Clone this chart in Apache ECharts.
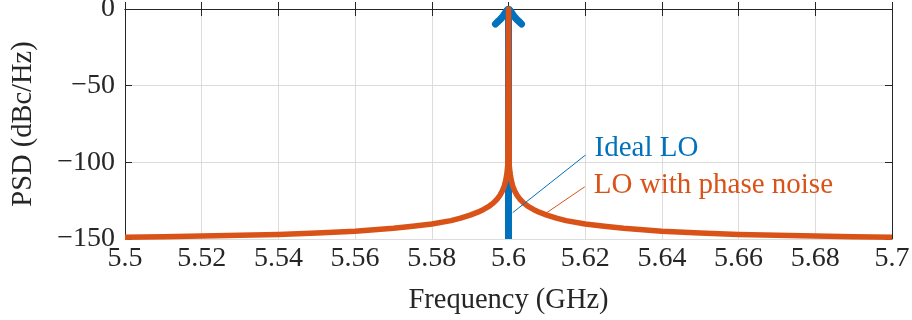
<!DOCTYPE html>
<html>
<head>
<meta charset="utf-8">
<script src="https://cdn.jsdelivr.net/npm/echarts@6/dist/echarts.min.js"></script>
<style>html,body{margin:0;padding:0;background:#fff}#c{width:912px;height:320px}</style>
</head>
<body>
<div id="c"></div>
<script>
// ---- data ----
const xTicks = [5.5, 5.52, 5.54, 5.56, 5.58, 5.6, 5.62, 5.64, 5.66, 5.68, 5.7];
const yTicks = [-150, -100, -50, 0];
const idealFreq = 5.6;
const idealLevel = 0;
const idealFloor = -150;
const noiseFreq = [5.5, 5.51, 5.52, 5.53, 5.54, 5.55, 5.56, 5.57, 5.575, 5.58, 5.585, 5.5875, 5.59, 5.592, 5.5935, 5.595, 5.596, 5.597, 5.5978, 5.5984, 5.5989, 5.5993, 5.5996, 5.5998, 5.6,
  5.6002, 5.6004, 5.6007, 5.6011, 5.6016, 5.6022, 5.603, 5.604, 5.605, 5.6065, 5.608, 5.61, 5.6125, 5.615, 5.62, 5.625, 5.63, 5.64, 5.65, 5.66, 5.67, 5.68, 5.69, 5.7];
const noiseLevel = [-148.8, -148.5, -148.1, -147.6, -147.0, -146.1, -144.9, -143.0, -141.7, -140.2, -138.0, -136.4, -134.4, -132.5, -130.7, -128.5, -126.6, -124.1, -121.4, -118.6, -115.4, -111.5, -107.0, -102.0, 0,
  -102.0, -107.0, -111.5, -115.4, -118.6, -121.4, -124.1, -126.6, -128.5, -130.7, -132.5, -134.4, -136.4, -138.0, -140.2, -141.7, -143.0, -144.9, -146.1, -147.0, -147.6, -148.1, -148.5, -148.8];
// arrow head arms (offsets from ideal peak)
const arrowDf = [-0.0034, -0.0015, 0, 0.0015, 0.0034];
const arrowDl = [-9.8, -5.0, 0, -5.0, -9.8];
// annotation pointers [freq, level]
const idealPointer = [[5.6011, -132.8], [5.6201, -95.2]];
const noisePointer = [[5.6100, -132.8], [5.6199, -115.9]];
const seriesNames = ['Ideal LO', 'LO with phase noise'];

const BLUE = '#0072BD', ORANGE = '#D95319', AX = '#262626', GRID = '#dcdcdc';
const FONT = 'Liberation Serif';
const fmtX = v => String(parseFloat(v.toFixed(2)));
const fmtY = v => String(Math.round(v)).replace('-', '\u2212');

const chart = echarts.init(document.getElementById('c'), null, {renderer: 'canvas'});
const axisCommon = {
  axisLine: {show: true, lineStyle: {color: AX, width: 1}},
  axisTick: {show: true, inside: true, length: 7, lineStyle: {color: AX, width: 1}},
};
chart.setOption({
  animation: false,
  backgroundColor: '#fff',
  grid: {left: 125, right: 20, top: 9, bottom: 81, containLabel: false, outerBoundsMode: 'none'},
  xAxis: [
    Object.assign({
      type: 'value', min: 5.5, max: 5.7, interval: 0.02, position: 'bottom',
      name: 'Frequency (GHz)', nameLocation: 'middle', nameGap: 47,
      nameTextStyle: {fontFamily: FONT, fontSize: 28.5, color: AX},
      axisLabel: {fontFamily: FONT, fontSize: 28, color: AX, margin: 6, formatter: fmtX},
      splitLine: {show: true, lineStyle: {color: GRID, width: 1}}
    }, axisCommon),
    Object.assign({
      type: 'value', min: 5.5, max: 5.7, interval: 0.02, position: 'top',
      axisLabel: {show: false}, splitLine: {show: false}
    }, axisCommon)
  ],
  yAxis: [
    Object.assign({
      type: 'value', min: -150, max: 0, interval: 50, position: 'left',
      name: 'PSD (dBc/Hz)', nameLocation: 'middle', nameGap: 87,
      nameTextStyle: {fontFamily: FONT, fontSize: 28.5, color: AX},
      axisLabel: {fontFamily: FONT, fontSize: 28, color: AX, margin: 10, formatter: fmtY},
      splitLine: {show: true, lineStyle: {color: GRID, width: 1}}
    }, axisCommon),
    Object.assign({
      type: 'value', min: -150, max: 0, interval: 50, position: 'right',
      axisLabel: {show: false}, splitLine: {show: false}
    }, axisCommon)
  ],
  series: [
    {
      name: seriesNames[0], type: 'line', showSymbol: false, symbol: 'none', z: 2,
      data: [[idealFreq, idealFloor], [idealFreq, idealLevel]],
      lineStyle: {color: BLUE, width: 7, cap: 'butt'}
    },
    {
      name: seriesNames[0] + ' arrow', type: 'line', showSymbol: false, symbol: 'none', z: 2, smooth: 0.3,
      data: arrowDf.map((d, i) => [idealFreq + d, idealLevel + arrowDl[i]]),
      lineStyle: {color: BLUE, width: 7, cap: 'round', join: 'round'}
    },
    {
      name: seriesNames[1], type: 'line', showSymbol: false, symbol: 'none', z: 3,
      data: noiseFreq.map((f, i) => [f, noiseLevel[i]]),
      lineStyle: {color: ORANGE, width: 5.5, cap: 'butt', join: 'round'}
    },
    {
      name: 'p1', type: 'line', showSymbol: false, symbol: 'none', z: 4,
      data: idealPointer,
      lineStyle: {color: BLUE, width: 1},
      endLabel: {show: true, formatter: seriesNames[0], color: BLUE, fontFamily: FONT, fontSize: 29, distance: 9, offset: [0, -7]}
    },
    {
      name: 'p2', type: 'line', showSymbol: false, symbol: 'none', z: 4,
      data: noisePointer,
      lineStyle: {color: ORANGE, width: 1},
      endLabel: {show: true, formatter: seriesNames[1], color: ORANGE, fontFamily: FONT, fontSize: 29, distance: 9, offset: [0, -1]}
    }
  ]
});
</script>
</body>
</html>
